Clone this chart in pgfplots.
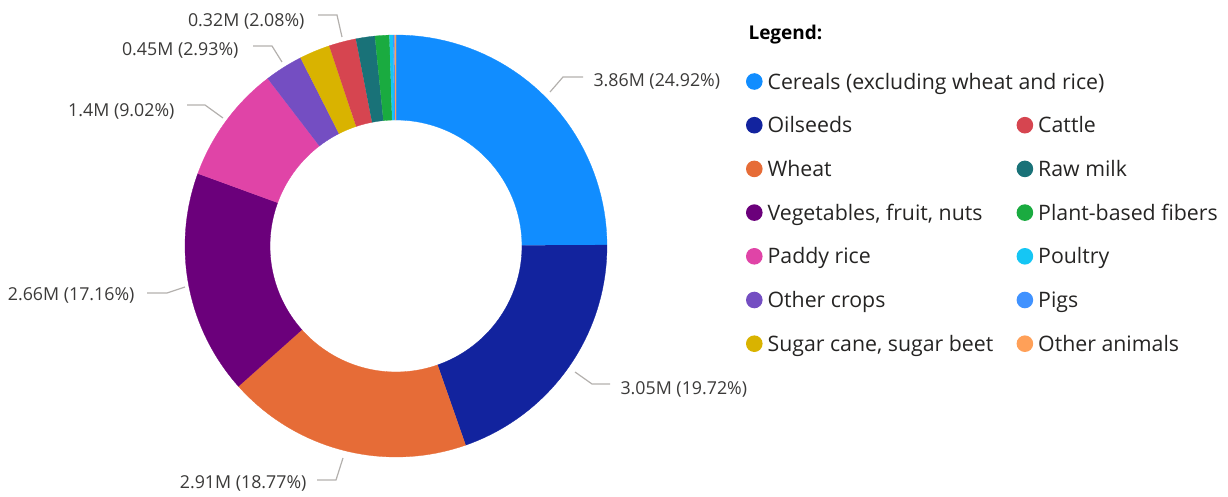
\documentclass[border=0pt]{standalone}
\usepackage{pgfplots}
\pgfplotsset{compat=1.18}
\usepackage{fontspec}
\setmainfont{Open Sans}
\definecolor{cereals}{HTML}{118DFF}
\definecolor{oilseeds}{HTML}{12239E}
\definecolor{wheat}{HTML}{E66C37}
\definecolor{veg}{HTML}{6B007B}
\definecolor{paddy}{HTML}{E044A7}
\definecolor{othercrops}{HTML}{744EC2}
\definecolor{sugar}{HTML}{D9B300}
\definecolor{cattle}{HTML}{D64550}
\definecolor{rawmilk}{HTML}{197278}
\definecolor{fibers}{HTML}{1AAB40}
\definecolor{poultry}{HTML}{15C6F4}
\definecolor{pigs}{HTML}{4092FF}
\definecolor{otheranimals}{HTML}{FFA058}
\definecolor{lbltext}{HTML}{3B3A39}
\definecolor{legtext}{HTML}{252423}
\definecolor{leader}{HTML}{B3B0AD}
% \slice{colour}{cumulative start %}{cumulative end %}
\newcommand\slice[3]{%
  \addplot[draw=#1, line width=0.3bp, fill=#1, domain=0:81, samples=82, variable=\t, forget plot]
    ({396+pr(\t)*cos(pa(\t,#2,#3))},{251+pr(\t)*sin(pa(\t,#2,#3))});}
\newcommand\lbl{\fontsize{17.8bp}{21bp}\selectfont}
\begin{document}
\begin{tikzpicture}
\begin{axis}[x=1bp, y=1bp, xmin=0, xmax=1228, ymin=0, ymax=497,
  hide axis, clip=false,
  declare function={pa(\xc,\xa,\xb)=90-3.6*((\xc<40.5) ? (\xa+(\xb-\xa)*\xc/40) : (\xb-(\xb-\xa)*(\xc-41)/40));
                    pr(\xc)=((\xc<40.5) ? 211 : 126);},
  legend columns=2, legend cell align=left,
  legend image code/.code={\fill[#1, draw=none] (8.3bp,0bp) circle[radius=8.3bp];},
  legend style={at={(axis cs:746,428)}, anchor=north west, draw=none, fill=none,
    inner sep=0pt, outer sep=0pt, text=legtext,
    font=\fontsize{21.3bp}{25bp}\selectfont,
    nodes={inner sep=0pt, text height=20bp, text depth=5bp},
    row sep=18.7bp,
    /tikz/every odd column/.append style={column sep=5bp}},
]
\slice{cereals}{0}{24.92}
\slice{oilseeds}{24.92}{44.64}
\slice{wheat}{44.64}{63.41}
\slice{veg}{63.41}{80.57}
\slice{paddy}{80.57}{89.59}
\slice{othercrops}{89.59}{92.52}
\slice{sugar}{92.52}{94.87}
\slice{cattle}{94.87}{96.95}
\slice{rawmilk}{96.95}{98.40}
\slice{fibers}{98.40}{99.50}
\slice{poultry}{99.50}{99.78}
\slice{pigs}{99.78}{99.89}
\slice{otheranimals}{99.89}{100}

\addlegendimage{fill=cereals}\addlegendentry{\makebox[249bp][l]{Cereals (excluding wheat and rice)}}
\addlegendimage{empty legend}\addlegendentry{}
\addlegendimage{fill=oilseeds}\addlegendentry{\makebox[249bp][l]{Oilseeds}}
\addlegendimage{fill=cattle}\addlegendentry{Cattle}
\addlegendimage{fill=wheat}\addlegendentry{\makebox[249bp][l]{Wheat}}
\addlegendimage{fill=rawmilk}\addlegendentry{Raw milk}
\addlegendimage{fill=veg}\addlegendentry{\makebox[249bp][l]{Vegetables, fruit, nuts}}
\addlegendimage{fill=fibers}\addlegendentry{Plant-based fibers}
\addlegendimage{fill=paddy}\addlegendentry{\makebox[249bp][l]{Paddy rice}}
\addlegendimage{fill=poultry}\addlegendentry{Poultry}
\addlegendimage{fill=othercrops}\addlegendentry{\makebox[249bp][l]{Other crops}}
\addlegendimage{fill=pigs}\addlegendentry{Pigs}
\addlegendimage{fill=sugar}\addlegendentry{\makebox[249bp][l]{Sugar cane, sugar beet}}
\addlegendimage{fill=otheranimals}\addlegendentry{Other animals}

\node[anchor=base west, text=black, font=\bfseries\fontsize{19bp}{22bp}\selectfont] at (745,457) {Legend:};

% data labels with leader lines
\draw[leader, line width=1.2bp] (550,405) -- (563,420) -- (583,420);
\node[anchor=base west, text=lbltext, font=\lbl] at (590,410) {3.86M (24.92\%)};
\draw[leader, line width=1.2bp] (575,125) -- (592,113) -- (610,113);
\node[anchor=base west, text=lbltext, font=\lbl] at (617,103) {3.05M (19.72\%)};
\draw[leader, line width=1.2bp] (343,39) -- (336,17) -- (317,17);
\node[anchor=base east, text=lbltext, font=\lbl] at (310,9) {2.91M (18.77\%)};
\draw[leader, line width=1.2bp] (185,210) -- (167,204) -- (147,204);
\node[anchor=base east, text=lbltext, font=\lbl] at (138,197) {2.66M (17.16\%)};
\draw[leader, line width=1.2bp] (223,379) -- (205,392) -- (187,392);
\node[anchor=base east, text=lbltext, font=\lbl] at (178,381) {1.4M (9.02\%)};
\draw[leader, line width=1.2bp] (282,435) -- (272,451) -- (253,451);
\node[anchor=base east, text=lbltext, font=\lbl] at (242,441) {0.45M (2.93\%)};
\draw[leader, line width=1.2bp] (342,460) -- (337,482) -- (318,482);
\node[anchor=base east, text=lbltext, font=\lbl] at (308,470) {0.32M (2.08\%)};
\end{axis}
\pgfresetboundingbox
\path (0,0) rectangle (1228bp,497bp);
\end{tikzpicture}
\end{document}
